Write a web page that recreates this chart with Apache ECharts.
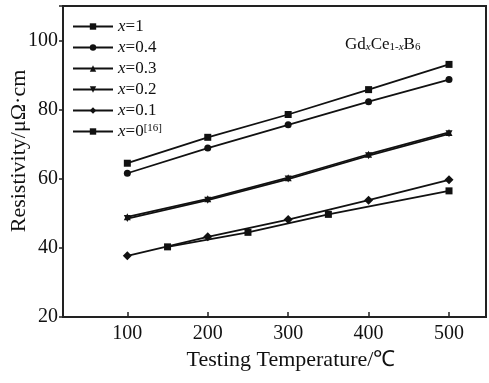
<!DOCTYPE html>
<html>
<head>
<meta charset="utf-8">
<script src="https://cdn.jsdelivr.net/npm/echarts@6/dist/echarts.min.js"></script>
<style>
  html, body { margin: 0; padding: 0; background: #fff; }
  #main { width: 489px; height: 383px; }
</style>
</head>
<body>
<div id="main"></div>
<script>
// 数据
var temps = [100, 200, 300, 400, 500];
var x1 = [64.5, 72.0, 78.6, 85.8, 93.1];
var x04 = [61.6, 68.9, 75.6, 82.3, 88.7];
var x03 = [49.0, 54.2, 60.3, 67.1, 73.4];
var x02 = [48.5, 53.8, 59.9, 66.7, 73.0];
var x01 = [37.7, 43.2, 48.2, 53.8, 59.7];
var x0Temps = [150, 250, 350, 500];
var x0 = [40.3, 44.5, 49.7, 56.5];
var xTicks = [100, 200, 300, 400, 500];

var serif = 'Liberation Serif';

function pairs(xs, ys) {
    return xs.map(function (t, i) { return [t, ys[i]]; });
}

function line(name, xs, ys, symbol, rotate) {
    return {
        name: name,
        type: 'line',
        data: pairs(xs, ys),
        symbol: symbol,
        symbolSize: symbol === 'diamond' ? 9 : 7,
        symbolRotate: rotate || 0,
        showSymbol: true,
        lineStyle: { color: '#111', width: 1.8 },
        itemStyle: { color: '#111' },
        animation: false
    };
}

var chartDom = document.getElementById('main');
var myChart = echarts.init(chartDom);
var option = {
    backgroundColor: '#fff',
    title: {
        text: '{m|Gd}{s|x}{m|Ce}{n|1-}{s|x}{m|B}{n|6}',
        left: 340,
        top: 30,
        textStyle: {
            rich: {
                m: { fontFamily: serif, fontSize: 17, fontWeight: 'normal', color: '#111', verticalAlign: 'bottom', lineHeight: 18 },
                s: { fontFamily: serif, fontSize: 11, fontWeight: 'normal', fontStyle: 'italic', color: '#111', verticalAlign: 'bottom', lineHeight: 14 },
                n: { fontFamily: serif, fontSize: 11, fontWeight: 'normal', color: '#111', verticalAlign: 'bottom', lineHeight: 14 }
            }
        }
    },
    legend: {
        orient: 'vertical',
        left: 67,
        top: 13,
        itemWidth: 40,
        itemHeight: 8,
        itemGap: 4,
        selectedMode: false,
        data: ['x=1', 'x=0.4', 'x=0.3', 'x=0.2', 'x=0.1', 'x=0[16]'],
        formatter: function (name) {
            if (name === 'x=0[16]') return '{i|x}{n|=0}{p|[16]}';
            return '{i|x}{n|' + name.slice(1) + '}';
        },
        textStyle: {
            rich: {
                i: { fontFamily: serif, fontSize: 17, fontStyle: 'italic', color: '#111', lineHeight: 17 },
                n: { fontFamily: serif, fontSize: 17, color: '#111', lineHeight: 17 },
                p: { fontFamily: serif, fontSize: 11, color: '#111', verticalAlign: 'top', lineHeight: 17, padding: [0, 0, 6, 0] }
            }
        }
    },
    grid: {
        left: 63,
        top: 6,
        right: 3,
        bottom: 66,
        outerBoundsMode: 'none',
        show: true,
        borderColor: '#222',
        borderWidth: 2,
        backgroundColor: 'transparent'
    },
    xAxis: {
        type: 'value',
        min: 20,
        max: 546,
        name: 'Testing Temperature/℃',
        nameLocation: 'middle',
        nameGap: 32,
        nameMoveOverlap: false,
        nameTextStyle: { fontFamily: serif, fontSize: 22, color: '#111', padding: [0, 0, 0, 33] },
        axisLine: { show: true, lineStyle: { color: '#222', width: 2 } },
        axisTick: { show: true, inside: true, length: 5, customValues: xTicks, lineStyle: { color: '#222', width: 1.5 } },
        axisLabel: { customValues: xTicks, margin: 7, fontFamily: serif, fontSize: 20, color: '#111' },
        splitLine: { show: false }
    },
    yAxis: {
        type: 'value',
        min: 20,
        max: 110,
        interval: 20,
        name: 'Resistivity/μΩ·cm',
        nameLocation: 'middle',
        nameGap: 33,
        nameMoveOverlap: false,
        nameTextStyle: { fontFamily: serif, fontSize: 22, color: '#111', padding: [0, 0, 0, 21] },
        axisLine: { show: true, lineStyle: { color: '#222', width: 2 } },
        axisTick: { show: true, inside: false, length: 4, lineStyle: { color: '#222', width: 1.5 } },
        axisLabel: {
            margin: 5, fontFamily: serif, fontSize: 20, color: '#111',
            formatter: function (v) { return v > 100 ? '' : v; }
        },
        splitLine: { show: false }
    },
    series: [
        line('x=1', temps, x1, 'rect'),
        line('x=0.4', temps, x04, 'circle'),
        line('x=0.3', temps, x03, 'triangle'),
        line('x=0.2', temps, x02, 'triangle', 180),
        line('x=0.1', temps, x01, 'diamond'),
        line('x=0[16]', x0Temps, x0, 'rect')
    ]
};
option && myChart.setOption(option);
</script>
</body>
</html>
